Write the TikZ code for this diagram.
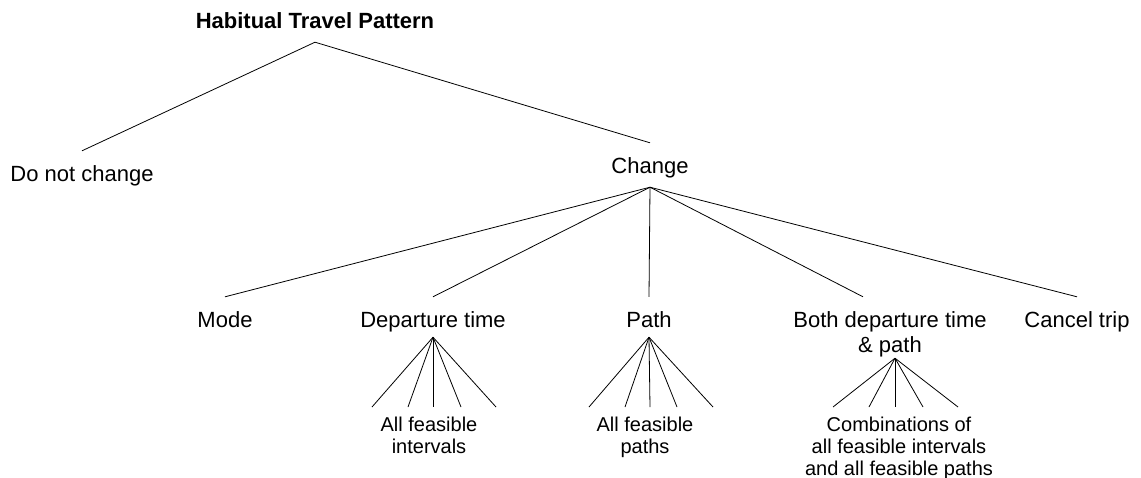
\documentclass[tikz,border=0pt]{standalone}
\usepackage{fontspec}
\setmainfont{Liberation Sans}

\begin{document}
\begin{tikzpicture}[x=1pt,y=-1pt]

\tikzset{
  LabelStyle/.style = {anchor=base, inner xsep=0pt, inner ysep=9pt,
                       text height=21pt, text depth=5pt,
                       font=\fontsize{22}{25}\selectfont},
  TitleStyle/.style = {LabelStyle, font=\fontsize{22}{25}\selectfont\bfseries},
  LeafStyle/.style  = {anchor=base, align=center, inner sep=0pt,
                       font=\fontsize{20}{22}\selectfont},
  EdgeStyle/.style  = {line width=0.8pt} }

  \useasboundingbox (0,0) rectangle (1141,477);

  \node[TitleStyle] (hab) at (315, 28) {Habitual Travel Pattern};

  \node[LabelStyle] (nochg) at (82, 181) {Do not change};
  \node[LabelStyle] (chg) at (650, 173) {Change};

  \node[LabelStyle] (mode) at (225, 327) {Mode};
  \node[LabelStyle, text depth=1pt] (dep) at (433, 327) {Departure time};
  \node[LabelStyle, text depth=1pt] (path) at (649, 327) {Path};
  \node[LabelStyle, align=center, text height=46pt, text depth=0pt] (both)
       at (890, 352) {Both departure time\\ \& path};
  \node[LabelStyle] (cancel) at (1077, 327) {Cancel trip};

  \node[LeafStyle] (depleaf) at (429, 453) {All feasible\\intervals};
  \node[LeafStyle] (pathleaf) at (645, 453) {All feasible\\paths};
  \node[LeafStyle] (bothleaf) at (899, 475)
       {Combinations of\\all feasible intervals\\and all feasible paths};

  \draw[EdgeStyle] (hab.south) -- (nochg.north);
  \draw[EdgeStyle] (hab.south) -- (chg.north);

  \foreach \n in {mode,dep,path,cancel}
    \draw[EdgeStyle] (chg.south) -- (\n.north);
  \draw[EdgeStyle] (chg.south) -- ([xshift=-27pt]both.north);

  % fans above the leaf labels
  \foreach \x [count=\i] in {372,408,433,461,496}{
    \coordinate (dep-\i) at (\x, 407);
    \draw[EdgeStyle] (dep.south) -- (dep-\i);
  }
  \foreach \x [count=\i] in {589,625,650,677,713}{
    \coordinate (path-\i) at (\x, 407);
    \draw[EdgeStyle] (path.south) -- (path-\i);
  }
  \foreach \x [count=\i] in {833,869,895,923,958}{
    \coordinate (both-\i) at (\x, 407);
    \draw[EdgeStyle] ([xshift=5pt,yshift=3pt]both.south) -- (both-\i);
  }

\end{tikzpicture}
\end{document}
